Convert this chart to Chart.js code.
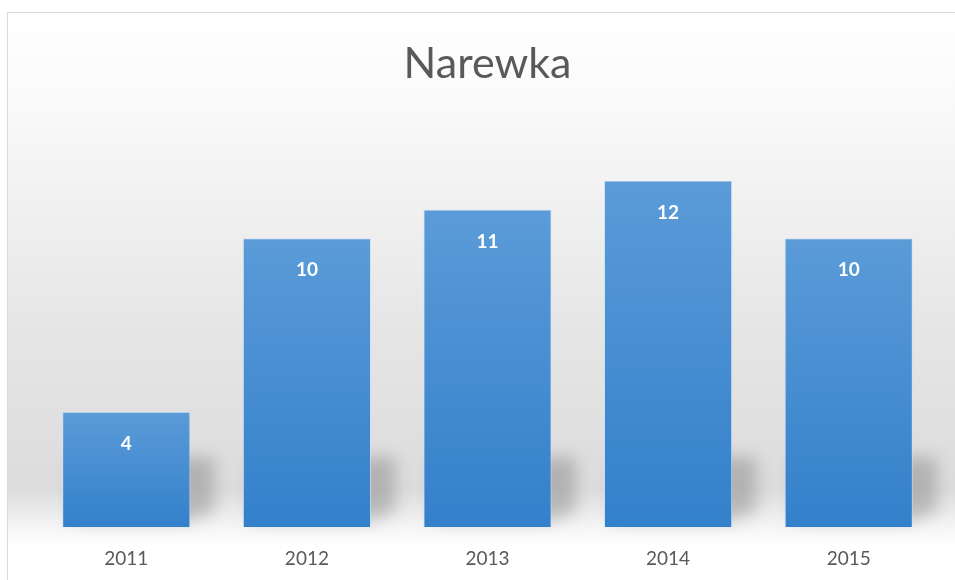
<!DOCTYPE html>
<html lang="pl">
<head>
    <meta charset="UTF-8">
    <title>Narewka</title>
    <script src="https://cdn.jsdelivr.net/npm/chart.js"></script>
    <style>
        body { margin: 0; background: #ffffff; }
        #wrap { width: 955px; height: 580px; position: relative; }
    </style>
</head>
<body>
    <div id="wrap"><canvas id="narewkaChart"></canvas></div>

    <script>
        // dane z wykresu
        var years = ['2011', '2012', '2013', '2014', '2015'];
        var counts = [4, 10, 11, 12, 10];
        var chartTitle = 'Narewka';

        var fontName = 'Lato, "Open Sans", sans-serif';

        // tlo ramki z gradientem (jak w Excelu)
        var frameBackground = {
            id: 'frameBackground',
            beforeDraw: function(chart) {
                var ctx = chart.ctx;
                var w = chart.width, h = chart.height;
                ctx.save();
                var g = ctx.createLinearGradient(0, 12, 0, h);
                g.addColorStop(0, '#ffffff');
                g.addColorStop(0.15, '#fafafa');
                g.addColorStop(0.55, '#e6e6e6');
                g.addColorStop(0.84, '#dcdcdc');
                g.addColorStop(0.91, '#f6f6f6');
                g.addColorStop(0.94, '#ffffff');
                g.addColorStop(1, '#ffffff');
                ctx.fillStyle = g;
                ctx.fillRect(7, 12, w, h);
                ctx.strokeStyle = '#d9d9d9';
                ctx.lineWidth = 1;
                ctx.strokeRect(7.5, 12.5, w + 10, h + 10);
                ctx.restore();
            }
        };

        // cien za slupkami
        var barShadows = {
            id: 'barShadows',
            beforeDatasetsDraw: function(chart) {
                var ctx = chart.ctx;
                var meta = chart.getDatasetMeta(0);
                ctx.save();
                ctx.filter = 'blur(8px)';
                ctx.fillStyle = 'rgba(110, 110, 110, 0.38)';
                meta.data.forEach(function(bar) {
                    var left = bar.x - bar.width / 2;
                    var right = bar.x + bar.width / 2;
                    var base = bar.base;
                    var top = Math.max(bar.y, base - 70);
                    ctx.beginPath();
                    ctx.moveTo(left + 10, base - 6);
                    ctx.lineTo(left + 10, top);
                    ctx.lineTo(right + 24, top);
                    ctx.lineTo(right + 24, base - 16);
                    ctx.lineTo(right - 2, base - 6);
                    ctx.closePath();
                    ctx.fill();
                });
                ctx.restore();
            }
        };

        // etykiety wartosci wewnatrz slupkow
        var valueLabels = {
            id: 'valueLabels',
            afterDatasetsDraw: function(chart) {
                var ctx = chart.ctx;
                var meta = chart.getDatasetMeta(0);
                ctx.save();
                ctx.font = 'bold 19px ' + fontName;
                ctx.fillStyle = '#ffffff';
                ctx.textAlign = 'center';
                ctx.textBaseline = 'middle';
                meta.data.forEach(function(bar, i) {
                    ctx.fillText(String(counts[i]), bar.x, bar.y + 32);
                });
                ctx.restore();
            }
        };

        function barGradient(context) {
            var chart = context.chart;
            var area = chart.chartArea;
            if (!area || context.dataIndex === undefined) return '#4a8fd6';
            var yScale = chart.scales.y;
            var top = yScale.getPixelForValue(counts[context.dataIndex]);
            var bottom = yScale.getPixelForValue(0);
            var g = chart.ctx.createLinearGradient(0, top, 0, bottom);
            g.addColorStop(0, '#5b9bd8');
            g.addColorStop(1, '#3380cb');
            return g;
        }

        new Chart(document.getElementById('narewkaChart'), {
            type: 'bar',
            data: {
                labels: years,
                datasets: [{
                    data: counts,
                    backgroundColor: barGradient,
                    borderColor: 'rgba(200, 225, 250, 0.7)',
                    borderWidth: 1,
                    categoryPercentage: 1,
                    barPercentage: 0.71
                }]
            },
            options: {
                responsive: true,
                maintainAspectRatio: false,
                animation: false,
                layout: {
                    padding: { top: 12, left: 36, right: 16, bottom: -10 }
                },
                plugins: {
                    legend: { display: false },
                    tooltip: { enabled: false },
                    title: {
                        display: true,
                        text: chartTitle,
                        color: '#595959',
                        font: { family: fontName, size: 43, weight: 'normal', lineHeight: 1.2 },
                        padding: { top: 26, bottom: 91 }
                    }
                },
                scales: {
                    x: {
                        grid: { display: false, drawTicks: false },
                        border: { display: false },
                        ticks: {
                            color: '#595959',
                            padding: 20,
                            font: { family: fontName, size: 19, lineHeight: 1.2 }
                        }
                    },
                    y: {
                        display: false,
                        min: 0,
                        max: 12
                    }
                }
            },
            plugins: [frameBackground, barShadows, valueLabels]
        });
    </script>
</body>
</html>
